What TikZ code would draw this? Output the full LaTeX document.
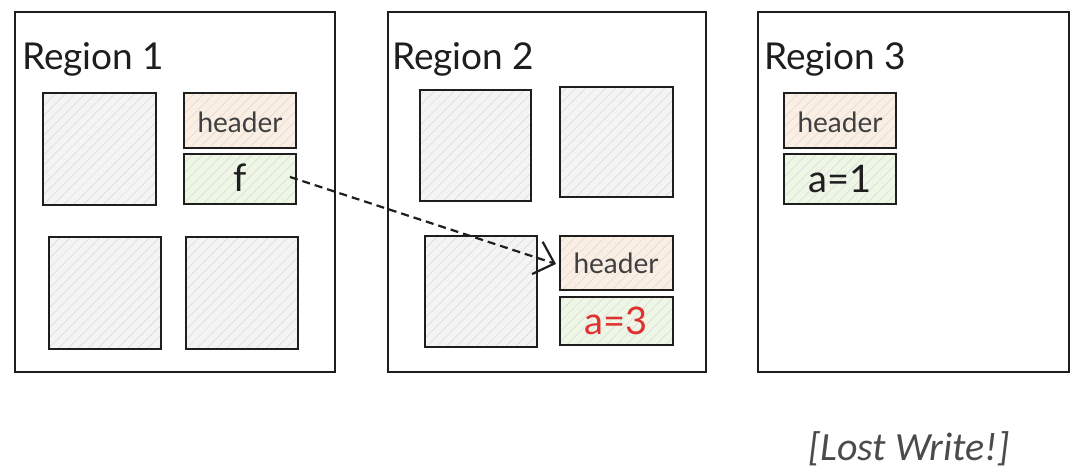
\documentclass[tikz,border=0pt]{standalone}
\usepackage{fontspec}
\setmainfont{Lato}
\newfontfamily\notefont{Carlito}
\usetikzlibrary{patterns.meta,arrows.meta}
\definecolor{ink}{HTML}{1E1E1E}
\definecolor{grayfill}{HTML}{F4F4F4}
\definecolor{hdrfill}{HTML}{FBEFE4}
\definecolor{datfill}{HTML}{EEF6E6}
\definecolor{hatch}{HTML}{D8D8D8}
\definecolor{redtxt}{HTML}{E03131}
\tikzset{
  region/.style={draw=ink, line width=2.8pt, fill=white},
  hatchbox/.style={draw=ink, line width=2.2pt, preaction={fill=#1},
    pattern={Lines[angle=45,distance=7pt,line width=0.5pt]}, pattern color=hatch},
  cell/.style={hatchbox=grayfill},
  hdr/.style={hatchbox=hdrfill},
  dat/.style={hatchbox=datfill},
  rtitle/.style={anchor=base west, font=\fontsize{37}{40}\selectfont, text=ink, inner sep=0pt},
  htext/.style={font=\fontsize{28}{30}\selectfont, text=ink!85},
  dtext/.style={font=\fontsize{38}{40}\selectfont, text=ink},
}
\begin{document}
\begin{tikzpicture}[x=1pt,y=-1pt]
\useasboundingbox (0,0) rectangle (1082,476);
% regions
\draw[region] (15,12) rectangle (335,372);
\draw[region] (388,12) rectangle (706,372);
\draw[region] (758,12) rectangle (1069,372);
\node[rtitle] (t1) at (22,70) {Region 1};
\node[rtitle] (t2) at (392,70) {Region 2};
\node[rtitle] (t3) at (764,70) {Region 3};
% region 1
\draw[cell] (43,93) rectangle (156,205);
\draw[hdr] (184,93) rectangle (296,148);
\node[htext] (h1) at (240,122) {header};
\draw[dat] (184,154) rectangle (296,204);
\node[dtext] (f) at (240,178) {f};
\coordinate (fe) at (290,177);
\draw[cell] (49,237) rectangle (161,349);
\draw[cell] (186,237) rectangle (298,349);
% region 2
\draw[cell] (420,90) rectangle (531,201);
\draw[cell] (560,87) rectangle (673,197);
\draw[cell] (425,236) rectangle (537,347);
\draw[hdr] (560,236) rectangle (673,290);
\node[htext] (h2) at (616,263) {header};
\draw[dat] (560,297) rectangle (673,345);
\node[dtext, text=redtxt] (a3) at (616,321) {a=3};
\coordinate (he) at (556,264);
% region 3
\draw[hdr] (784,93) rectangle (896,148);
\node[htext] (h3) at (840,122) {header};
\draw[dat] (784,154) rectangle (896,204);
\node[dtext] (a1) at (840,179) {a=1};
% arrow
\draw[ink, line width=2.2pt, dash pattern=on 8pt off 5pt,
  -{Straight Barb[length=18pt,width=34pt,line width=2.2pt]}] (fe) -- (he);
% note
\node[font=\notefont\itshape\fontsize{40}{42}\selectfont, text=ink!80] (note) at (909,449) {[Lost Write!]};
\end{tikzpicture}
\end{document}
